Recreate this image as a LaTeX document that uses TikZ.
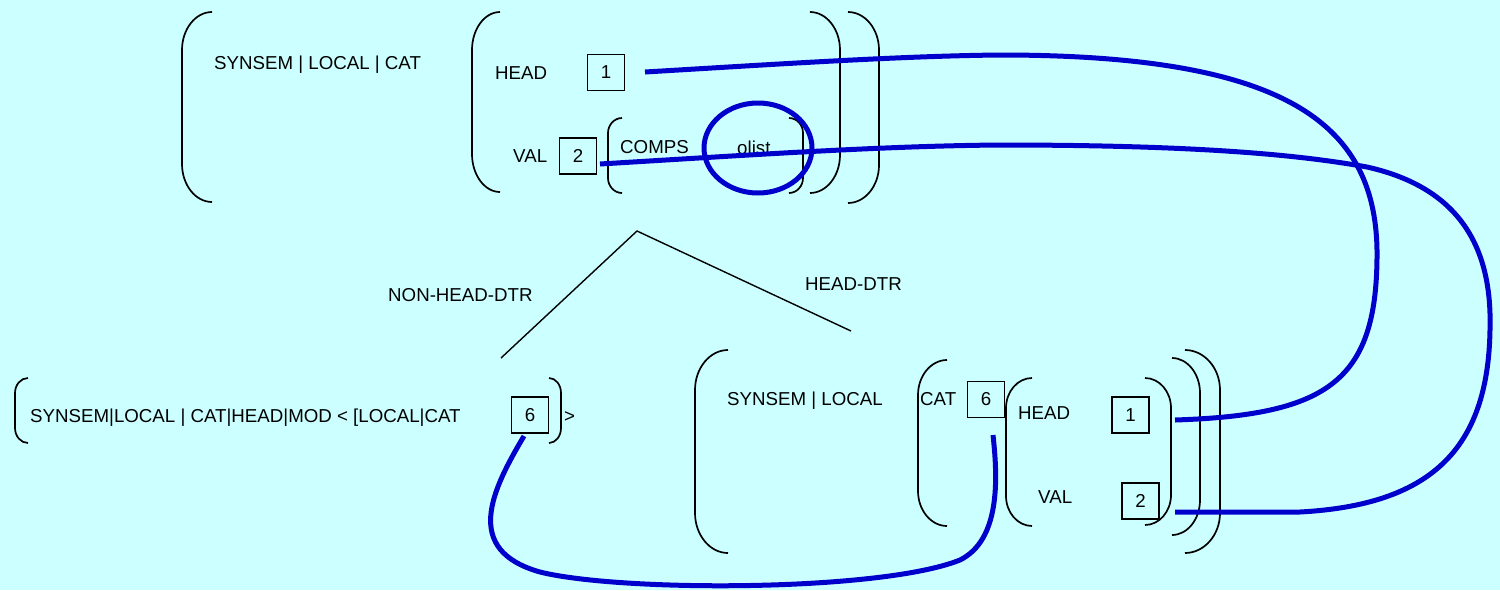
\documentclass[tikz,border=0pt]{standalone}
\usepackage{fontspec}
\setmainfont{Liberation Sans}
\usetikzlibrary{shapes.geometric}
\definecolor{bgc}{RGB}{204,255,255}
\definecolor{lnk}{RGB}{0,0,204}
\tikzset{
  brk/.style={line width=1.7pt, black},
  tree/.style={line width=1.4pt, black},
  lbl/.style={inner sep=0pt, anchor=west, text height=13pt, text depth=0pt, font=\fontsize{18.7}{20}\selectfont},
  tag/.style={draw, line width=1.7pt, inner sep=0pt, minimum width=37pt, minimum height=36pt, font=\fontsize{18.7}{20}\selectfont},
  link/.style={lnk, line width=5pt},
}
% left paren: xl, xr, top, bottom, curve height
\newcommand\LP[5]{\draw[brk] (#2,#3) .. controls ({#1+0.45*(#2-#1)},#3) and (#1,{#3+0.45*#5}) .. (#1,{#3+#5}) -- (#1,{#4-#5}) .. controls (#1,{#4-0.45*#5}) and ({#1+0.45*(#2-#1)},#4) .. (#2,#4);}
% right paren: xl, xr, top, bottom, curve height
\newcommand\RP[5]{\draw[brk] (#1,#3) .. controls ({#2-0.45*(#2-#1)},#3) and (#2,{#3+0.45*#5}) .. (#2,{#3+#5}) -- (#2,{#4-#5}) .. controls (#2,{#4-0.45*#5}) and ({#2-0.45*(#2-#1)},#4) .. (#1,#4);}
\begin{document}
\begin{tikzpicture}[x=1pt,y=-1pt]
\fill[bgc] (0,0) rectangle (1500,590);
\useasboundingbox (0,0) rectangle (1500,590);

% ---------- top structure ----------
\LP{182}{212}{12}{202}{38}
\node[lbl] (tsyn) at (214,63) {SYNSEM | LOCAL | CAT};
\LP{472}{500}{12}{192}{38}
\node[lbl] (thead) at (495,73) {HEAD};
\node[tag] (t1) at (606,72.5) {1};
\node[lbl] (tval) at (513,156) {VAL};
\node[tag] (t2) at (578,156) {2};
\LP{608}{622}{118}{193}{15}
\node[lbl] (tcomps) at (620,147) {COMPS};
\node[lbl] (tolist) at (737,148) {olist};
\RP{789}{803}{118}{193}{15}
\RP{810}{840}{12}{193}{38}
\RP{848}{879}{12}{203}{38}

% ---------- tree ----------
\coordinate (apex) at (637,231);
\coordinate (lend) at (501,358);
\coordinate (rend) at (851,331);
\draw[tree] (lend) -- (apex) -- (rend);
\node[lbl] (nhd) at (388,295) {NON-HEAD-DTR};
\node[lbl] (hd) at (805,284) {HEAD-DTR};

% ---------- bottom left ----------
\LP{15}{28}{378}{443}{15}
\node[lbl] (lsyn) at (30,416) {SYNSEM|LOCAL | CAT|HEAD|MOD < [LOCAL|CAT};
\node[tag] (l6) at (530,415) {6};
\RP{549}{561}{378}{443}{15}
\node[lbl] (lgt) at (564,416) {>};

% ---------- bottom right ----------
\LP{695}{728}{350}{553}{40}
\node[lbl] (rsyn) at (727,399) {SYNSEM | LOCAL};
\LP{918}{947}{360}{526}{35}
\node[lbl] (rcat) at (920,399) {CAT};
\node[tag] (r6) at (986,399.5) {6};
\LP{1006}{1032}{378}{526}{30}
\node[lbl] (rhead) at (1018,413) {HEAD};
\node[tag] (r1) at (1130.5,415) {1};
\node[lbl] (rval) at (1038,497) {VAL};
\node[tag] (r2) at (1140.5,501) {2};
\RP{1145}{1171}{378}{525}{30}
\RP{1172}{1200}{358}{535}{35}
\RP{1185}{1220}{350}{553}{40}

% ---------- links ----------
\node[ellipse, draw=lnk, line width=5pt, minimum width=108pt, minimum height=90pt, inner sep=0pt] (circ) at (758,148) {};

\coordinate (s1) at (645,72);
\coordinate (e1) at (1175,420);
\coordinate (s2) at (600,164);
\coordinate (e2) at (1175,512);
\coordinate (s3) at (524,436);
\coordinate (e3) at (993,435);

\draw[link] (s1) .. controls (780,64) and (900,56) .. (1000,55)
  .. controls (1280,55) and (1375,120) .. (1377,250)
  .. controls (1378,380) and (1330,415) .. (e1);
\draw[link] (s2) .. controls (750,155) and (880,146) .. (1000,145)
  .. controls (1200,145) and (1300,155) .. (1367,167)
  .. controls (1470,190) and (1492,260) .. (1490,330)
  .. controls (1488,450) and (1430,505) .. (1300,512) -- (e2);
\draw[link] (s3) .. controls (492,490) and (462,550) .. (540,572)
  .. controls (620,592) and (880,592) .. (960,560)
  .. controls (1000,540) and (998,480) .. (e3);
\end{tikzpicture}
\end{document}
